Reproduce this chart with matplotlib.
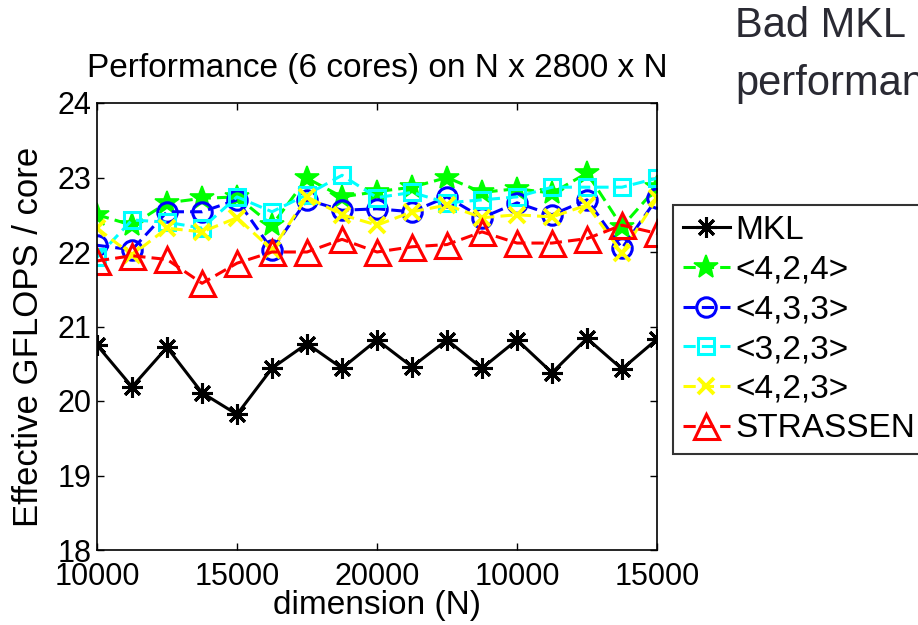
import numpy as np
import matplotlib
matplotlib.use("Agg")
import matplotlib.pyplot as plt

plt.rcParams['font.family'] = ['Liberation Sans', 'DejaVu Sans']

# Data (17 runs, 4 per tick interval)
runs = np.arange(17)
tick_pos = [0, 4, 8, 12, 16]
tick_labels = ['10000', '15000', '20000', '10000', '15000']

mkl = [20.75, 20.19, 20.72, 20.11, 19.82, 20.44, 20.77, 20.44, 20.82,
       20.46, 20.82, 20.44, 20.82, 20.38, 20.84, 20.43, 20.83]
alg_424 = [22.50, 22.36, 22.66, 22.72, 22.74, 22.36, 22.99, 22.74, 22.81,
           22.87, 23.00, 22.80, 22.85, 22.79, 23.06, 22.34, 22.87]
alg_433 = [22.09, 22.03, 22.54, 22.54, 22.70, 22.03, 22.70, 22.56, 22.58,
           22.54, 22.74, 22.46, 22.66, 22.50, 22.70, 22.05, 22.72]
alg_323 = [21.93, 22.43, 22.40, 22.32, 22.74, 22.54, 22.77, 23.03, 22.73,
           22.80, 22.66, 22.70, 22.74, 22.87, 22.87, 22.87, 22.99]
alg_423 = [22.32, 21.96, 22.32, 22.27, 22.46, 22.03, 22.74, 22.50, 22.36,
           22.54, 22.63, 22.46, 22.50, 22.47, 22.63, 21.99, 22.72]
strassen = [21.88, 21.95, 21.90, 21.58, 21.85, 22.00, 22.00, 22.17, 22.00,
            22.07, 22.10, 22.27, 22.12, 22.12, 22.18, 22.36, 22.25]

fig = plt.figure(figsize=(9.18, 6.25), dpi=100)
ax = fig.add_axes([0.1057, 0.12, 0.61, 0.7152])

lw = 2.2
mew = 2.2
dash = (4, 2)
ax.plot(runs, mkl, '-', color='black', lw=lw, marker=(8, 2, 0), ms=15, mew=mew, label='MKL')
ax.plot(runs, alg_424, '--', dashes=dash, color='#00ff00', lw=lw, marker='*',
        ms=18, mew=1.2, label='<4,2,4>')
ax.plot(runs, alg_433, '--', dashes=dash, color='#0000ff', lw=lw, marker='o',
        ms=14, mew=mew, mfc='none', label='<4,3,3>')
ax.plot(runs, alg_323, '--', dashes=dash, color='#00ffff', lw=lw, marker='s',
        ms=12, mew=mew, mfc='none', label='<3,2,3>')
ax.plot(runs, alg_423, '--', dashes=dash, color='#ffff00', lw=lw, marker='x',
        ms=11, mew=mew + 0.6, label='<4,2,3>')
ax.plot(runs, strassen, '--', dashes=dash, color='#ff0000', lw=lw, marker='^',
        ms=18, mew=mew, mfc='none', label='STRASSEN')

ax.set_xlim(0, 16)
ax.set_ylim(18, 24)
ax.set_xticks(tick_pos)
ax.set_xticklabels(tick_labels)
ax.set_yticks(range(18, 25))
ax.tick_params(direction='in', top=True, right=True, labelsize=22, length=5, width=1)
ax.tick_params(axis='x', pad=8.5)
ax.tick_params(axis='y', pad=4)
for s in ax.spines.values():
    s.set_linewidth(1.2)

ax.set_title('Performance (6 cores) on N x 2800 x N', fontsize=24, pad=19)
ax.set_xlabel('dimension (N)', fontsize=24, labelpad=-1)
ax.set_ylabel('Effective GFLOPS / core', fontsize=25)
ax.yaxis.set_label_coords(-0.093, 0.477)

leg = fig.legend(loc='upper left', bbox_to_anchor=(673 / 918, 1 - 205 / 625),
                 fontsize=24, frameon=True, fancybox=False, handlelength=1.4,
                 handletextpad=0.18, borderpad=0.3, labelspacing=0.26,
                 borderaxespad=0)
leg.get_frame().set_edgecolor('black')
leg.get_frame().set_linewidth(1.5)

fig.text(735 / 918, 1 - 37 / 625, 'Bad MKL', fontsize=30, color='#2a2a33',
         va='baseline', ha='left')
fig.text(735 / 918, 1 - 95 / 625, 'performance', fontsize=30, color='#2a2a33',
         va='baseline', ha='left')

fig.savefig('out.png', dpi=100)
